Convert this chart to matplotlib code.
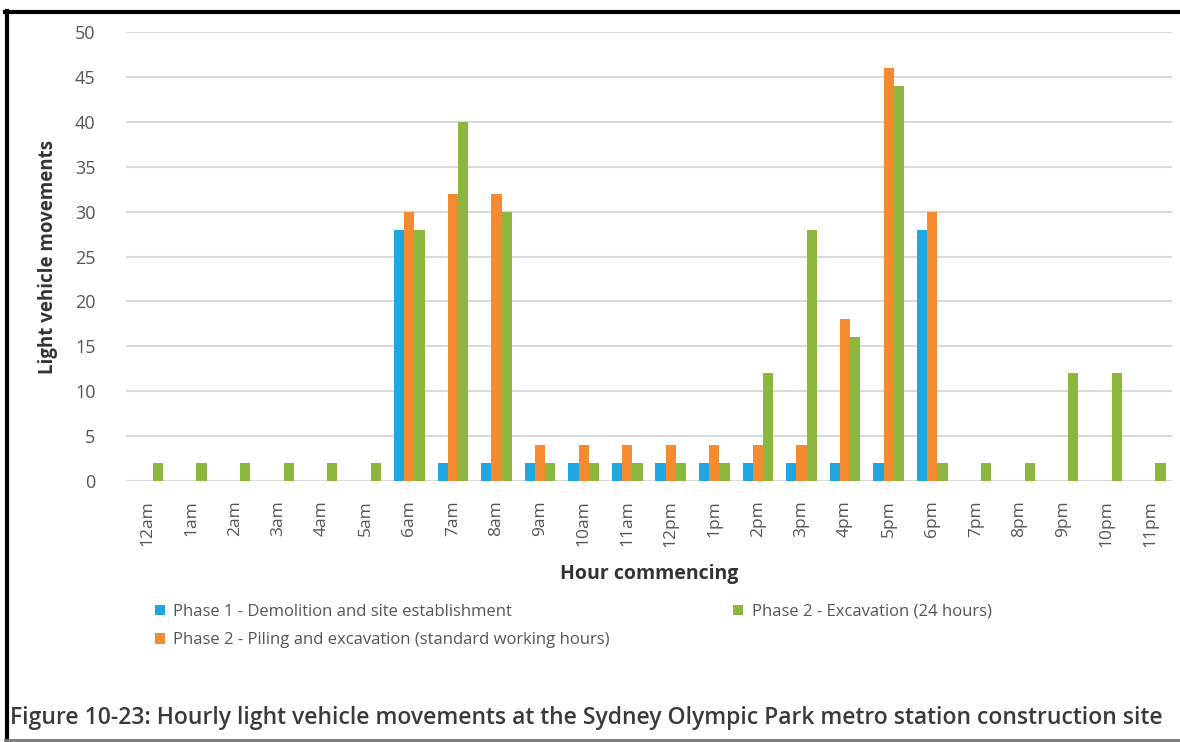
import numpy as np
import matplotlib
matplotlib.use("Agg")
import matplotlib.pyplot as plt
from matplotlib.lines import Line2D


# Hour labels along the x axis

hours = [
    "12am", "1am", "2am", "3am", "4am", "5am", "6am", "7am", "8am", "9am", "10am", "11am",
    "12pm", "1pm", "2pm", "3pm", "4pm", "5pm", "6pm", "7pm", "8pm", "9pm", "10pm", "11pm"
]

# Light vehicle movements per hour for each construction phase

phase1_demolition = [0, 0, 0, 0, 0, 0, 28, 2, 2, 2, 2, 2,
                     2, 2, 2, 2, 2, 2, 28, 0, 0, 0, 0, 0]
phase2_piling = [0, 0, 0, 0, 0, 0, 30, 32, 32, 4, 4, 4,
                 4, 4, 4, 4, 18, 46, 30, 0, 0, 0, 0, 0]
phase2_excavation = [2, 2, 2, 2, 2, 2, 28, 40, 30, 2, 2, 2,
                     2, 2, 12, 28, 16, 44, 2, 2, 2, 12, 12, 2]

series_names = [
    "Phase 1 - Demolition and site establishment",
    "Phase 2 - Piling and excavation (standard working hours)",
    "Phase 2 - Excavation (24 hours)",
]
series_colors = ["#1ea7e1", "#f58b31", "#8cb63e"]

plt.rcParams["font.family"] = ["Open Sans", "DejaVu Sans"]

fig = plt.figure(figsize=(11.8, 7.42), dpi=100)
ax = fig.add_axes([126 / 1180, 1 - 481 / 742, 1046 / 1180, 449 / 742])

x = np.arange(len(hours))
w = 0.235
series = [phase1_demolition, phase2_piling, phase2_excavation]
for i, (vals, name, col) in enumerate(zip(series, series_names, series_colors)):
    ax.bar(x + (i - 1) * w, vals, width=w, color=col, label=name, zorder=3)

ax.set_xlim(-0.5, len(hours) - 0.5)
ax.set_ylim(0, 50)
ax.set_yticks(range(0, 51, 5))
ax.set_xticks(x)
ax.set_xticklabels(hours, rotation=90, fontsize=12.5, color="#555555")
ax.tick_params(axis="y", labelsize=13, colors="#555555", length=0, pad=22)
ax.tick_params(axis="x", length=0, pad=14)
ax.grid(axis="y", color="#d9d9d9", linewidth=1.5, zorder=0)
for s in ax.spines.values():
    s.set_visible(False)

ax.set_ylabel("Light vehicle movements", fontsize=13.5, fontweight="bold", color="#333333", labelpad=12)
ax.set_xlabel("Hour commencing", fontsize=14, fontweight="bold", color="#333333", labelpad=12)

fig.legend(
    loc="upper left", bbox_to_anchor=(140 / 1180, 1 - 589 / 742), ncol=2,
    frameon=False, fontsize=12, handlelength=0.6, handleheight=0.6,
    handletextpad=0.5, columnspacing=7.4, labelspacing=0.75, labelcolor="#555555"
)

fig.text(10 / 1180, 1 - 718 / 742,
         "Figure 10-23: Hourly light vehicle movements at the Sydney Olympic Park metro station construction site",
         fontsize=16.5, fontweight="semibold", color="#3a3a3a", va="center", ha="left")

# Black frame around the figure
fig.add_artist(Line2D([6.5 / 1180, 6.5 / 1180], [1 - 11 / 742, 1 - 740 / 742], color="black", linewidth=3, transform=fig.transFigure))
fig.add_artist(Line2D([5 / 1180, 1.0], [1 - 11.5 / 742, 1 - 11.5 / 742], color="black", linewidth=3, transform=fig.transFigure))
fig.add_artist(Line2D([5 / 1180, 1.0], [1 - 740 / 742, 1 - 740 / 742], color="#777777", linewidth=2, transform=fig.transFigure))

fig.savefig("out.png", dpi=100)
